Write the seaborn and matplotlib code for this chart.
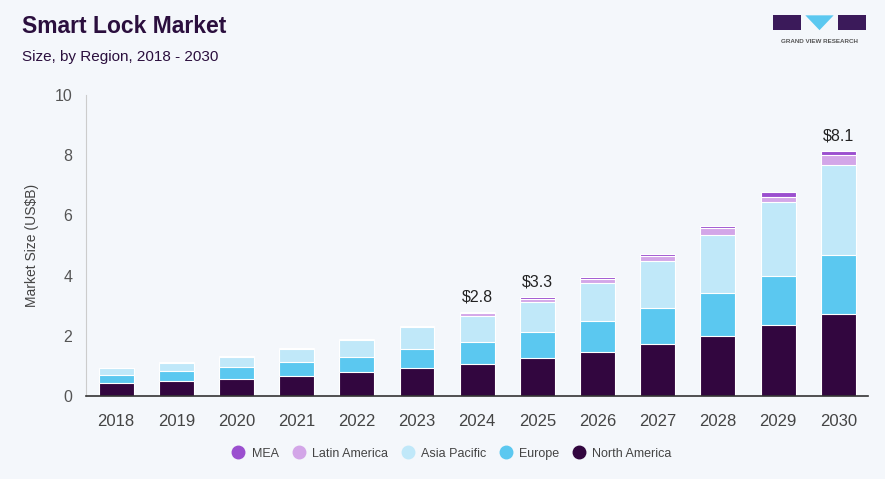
import numpy as np
import pandas as pd
import seaborn as sns
import matplotlib.pyplot as plt
from matplotlib.patches import Rectangle, Polygon
from matplotlib.lines import Line2D

# data (US$ billion)
years = ['2018', '2019', '2020', '2021', '2022', '2023', '2024',
         '2025', '2026', '2027', '2028', '2029', '2030']
north_america = [0.44, 0.51, 0.575, 0.675, 0.80, 0.94, 1.07, 1.27, 1.46, 1.73, 1.99, 2.35, 2.73]
europe = [0.26, 0.31, 0.39, 0.455, 0.50, 0.61, 0.73, 0.86, 1.03, 1.19, 1.43, 1.65, 1.96]
asia_pacific = [0.22, 0.29, 0.34, 0.44, 0.55, 0.73, 0.85, 1.00, 1.25, 1.57, 1.93, 2.43, 3.00]
latin_america = [0.01, 0.01, 0.01, 0.02, 0.03, 0.03, 0.10, 0.10, 0.15, 0.16, 0.22, 0.19, 0.31]
mea = [0.005, 0.005, 0.005, 0.01, 0.01, 0.01, 0.05, 0.07, 0.05, 0.08, 0.09, 0.15, 0.14]
labelled = {'2024': '$2.8', '2025': '$3.3', '2030': '$8.1'}

regions = ['North America', 'Europe', 'Asia Pacific', 'Latin America', 'MEA']
colors = {'North America': '#32063f', 'Europe': '#5bc8f0', 'Asia Pacific': '#c0e8f9',
          'Latin America': '#d3a6e8', 'MEA': '#9b4fcf'}

df = pd.DataFrame({'year': years, 'North America': north_america, 'Europe': europe,
                   'Asia Pacific': asia_pacific, 'Latin America': latin_america, 'MEA': mea})

bg = '#f4f7fb'
sns.set_style('white')
plt.rcParams['font.family'] = ['Liberation Sans', 'DejaVu Sans']

fig = plt.figure(figsize=(8.85, 4.79), dpi=100, facecolor=bg)
ax = fig.add_axes([0.0972, 0.1733, 0.884, 0.6284])
ax.set_facecolor(bg)

# stacked bars: draw cumulative totals from the top series down
cum = df[regions].cumsum(axis=1)
for region in reversed(regions):
    sns.barplot(x=df['year'], y=cum[region], color=colors[region], width=0.58,
                edgecolor='white', linewidth=0.8, ax=ax, saturation=1)

totals = cum['MEA']
for i, y in enumerate(years):
    if y in labelled:
        ax.text(i, totals[i] + 0.25, labelled[y], ha='center', va='bottom',
                fontsize=11.5, color='#222222')

ax.set_ylim(0, 10)
ax.set_xlim(-0.5, 12.5)
ax.set_yticks([0, 2, 4, 6, 8, 10])
ax.set_xlabel('')
ax.set_ylabel('Market Size (US$B)', fontsize=10, color='#444444')
ax.yaxis.set_label_coords(-0.06, 0.5)
ax.tick_params(axis='y', labelsize=11.5, colors='#555555', length=0, pad=10)
ax.tick_params(axis='x', labelsize=12, colors='#444444', length=0, pad=13)
for s in ['top', 'right']:
    ax.spines[s].set_visible(False)
ax.spines['left'].set_color('#cccccc')
ax.spines['bottom'].set_color('#333333')
ax.spines['bottom'].set_linewidth(1.2)

# legend
handles = [Line2D([0], [0], marker='o', linestyle='', markersize=9,
                  markerfacecolor=colors[r], markeredgecolor=colors[r], label=r)
           for r in reversed(regions)]
fig.legend(handles=handles, loc='center', bbox_to_anchor=(0.51, 0.053), ncol=5,
           frameon=False, fontsize=9, labelcolor='#444444', handletextpad=0.45,
           handlelength=1.2, columnspacing=1.0)

# titles
fig.text(0.025, 0.945, 'Smart Lock Market', fontsize=16.5, fontweight='bold',
         color='#2b0f3e', va='center')
fig.text(0.025, 0.882, 'Size, by Region, 2018 - 2030', fontsize=11,
         color='#2b0f3e', va='center')

# logo
fig.patches.append(Rectangle((0.874, 0.937), 0.031, 0.031, transform=fig.transFigure,
                             facecolor='#3b1a5a', edgecolor='none'))
fig.patches.append(Polygon([[0.910, 0.968], [0.942, 0.968], [0.926, 0.937]], closed=True,
                           transform=fig.transFigure, facecolor='#5bc8f0', edgecolor='none'))
fig.patches.append(Rectangle((0.947, 0.937), 0.031, 0.031, transform=fig.transFigure,
                             facecolor='#3b1a5a', edgecolor='none'))
fig.text(0.926, 0.913, 'GRAND VIEW RESEARCH', fontsize=4.5, color='#555555',
         ha='center', va='center', fontweight='bold')

fig.savefig('out.png', dpi=100, facecolor=bg)
